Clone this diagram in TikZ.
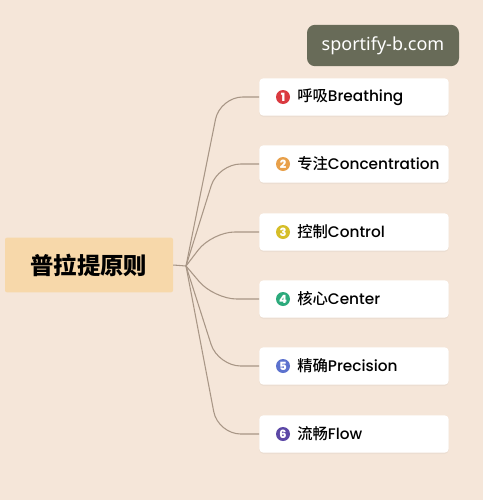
\documentclass[tikz,border=0pt]{standalone}
\usepackage{fontspec}
\newfontfamily\cjk{Noto Sans CJK SC}
\newfontfamily\cjkm{Noto Sans CJK SC}[UprightFont=* Medium]
\newfontfamily\lat{Poppins}[UprightFont=* Medium]
\newfontfamily\web{Noto Sans}
\usetikzlibrary{shadows}
\definecolor{bgc}{RGB}{245,230,217}
\definecolor{rootc}{RGB}{247,216,170}
\definecolor{linec}{RGB}{168,150,134}
\definecolor{markc}{RGB}{104,107,88}
\definecolor{c1}{RGB}{218,58,64}
\definecolor{c2}{RGB}{232,160,74}
\definecolor{c3}{RGB}{214,190,40}
\definecolor{c4}{RGB}{44,170,124}
\definecolor{c5}{RGB}{92,114,206}
\definecolor{c6}{RGB}{92,72,166}
\tikzset{
  root/.style={fill=rootc, minimum width=126pt, minimum height=41pt, rounded corners=1.5pt,
    font=\fontsize{17.5}{20}\selectfont\cjk\bfseries},
  item/.style={fill=white, minimum width=142pt, minimum height=28pt, rounded corners=3pt,
    drop shadow={opacity=0.07, shadow xshift=0pt, shadow yshift=-1pt}},
  num/.style={circle, inner sep=0pt, minimum size=10.5pt, text=white,
    font=\fontsize{8.5}{8.5}\selectfont\lat\bfseries},
  lab/.style={anchor=west, inner sep=0pt, font=\fontsize{11.5}{14}\selectfont},
  branch/.style={draw=linec, line width=0.8pt, rounded corners=17pt}
}
\begin{document}
\begin{tikzpicture}[x=0.75pt, y=-0.75pt]
            \fill[bgc] (0,0) rectangle (483,500);
            \useasboundingbox (0,0) rectangle (483,500);
            \node[fill=markc, rounded corners=6pt, minimum width=114pt, minimum height=31pt,
              text=white, font=\fontsize{13.5}{16}\selectfont\web] (W) at (383,45.5) {sportify-b.com};
            \node[root] (A) at (89,265) {普拉提原则};
            \coordinate (H) at (186,266);
            \node[item] (B1) at (354,97) {};
            \node[item] (B2) at (354,164) {};
            \node[item] (B3) at (354,232) {};
            \node[item] (B4) at (354,299) {};
            \node[item] (B5) at (354,366) {};
            \node[item] (B6) at (354,434) {};
            \node[num, fill=c1] (N1) at (283,97) {1};
            \node[num, fill=c2] (N2) at (283,164) {2};
            \node[num, fill=c3] (N3) at (283,232) {3};
            \node[num, fill=c4] (N4) at (283,299) {4};
            \node[num, fill=c5] (N5) at (283,366) {5};
            \node[num, fill=c6] (N6) at (283,434) {6};
            \node[lab] (T1) at (297,97) {\cjkm 呼吸\lat Breathing};
            \node[lab] (T2) at (297,164) {\cjkm 专注\lat Concentration};
            \node[lab] (T3) at (297,232) {\cjkm 控制\lat Control};
            \node[lab] (T4) at (297,299) {\cjkm 核心\lat Center};
            \node[lab] (T5) at (297,366) {\cjkm 精确\lat Precision};
            \node[lab] (T6) at (297,434) {\cjkm 流畅\lat Flow};
            \draw[branch] (A.east) -- (H);
            \draw[branch] (H) -- (220,97) -- (B1.west);
            \draw[branch] (H) -- (218,164) -- (B2.west);
            \draw[branch] (H) -- (212,232) -- (B3.west);
            \draw[branch] (H) -- (214,299) -- (B4.west);
            \draw[branch] (H) -- (218,366) -- (B5.west);
            \draw[branch] (H) -- (218,434) -- (B6.west);
        \end{tikzpicture}
\end{document}
